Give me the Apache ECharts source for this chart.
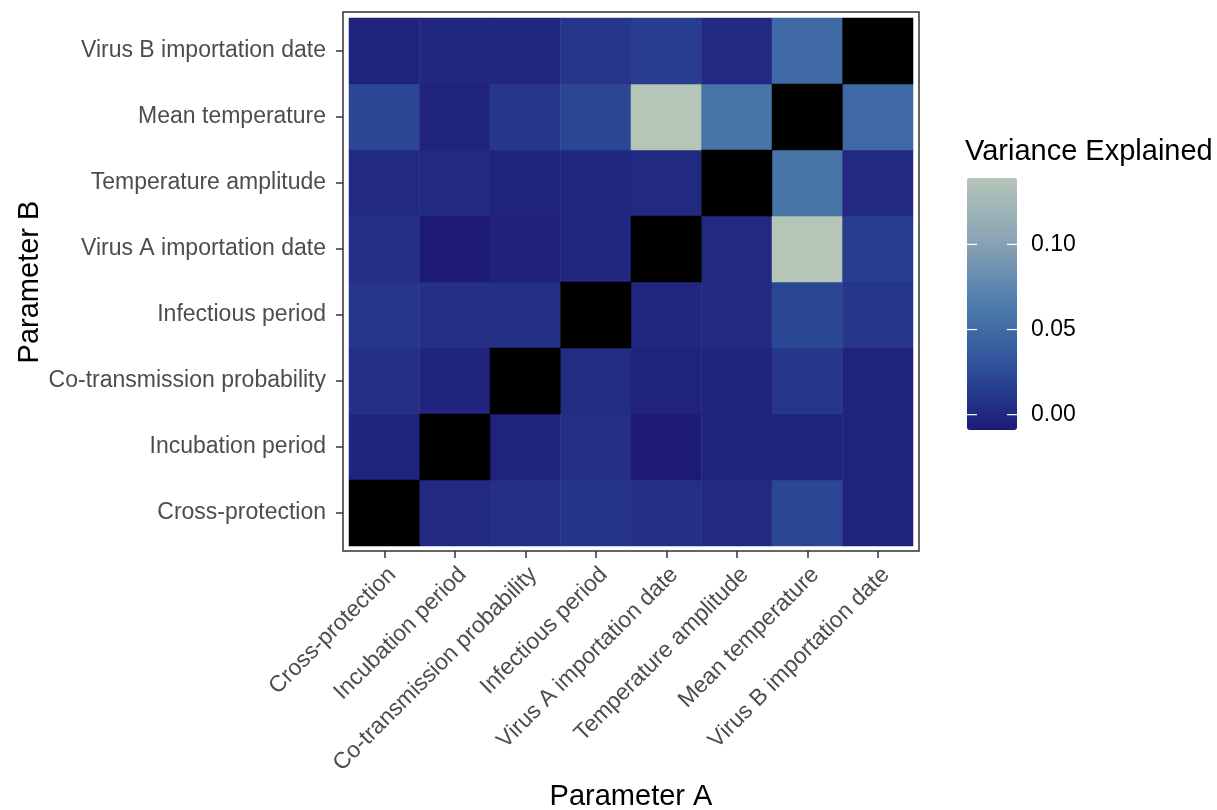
<!DOCTYPE html>
<html><head><meta charset="utf-8">
<script src="https://cdn.jsdelivr.net/npm/echarts@6/dist/echarts.min.js"></script>
<style>html,body{margin:0;padding:0;background:#fff}#c{width:1217px;height:810px}</style>
</head><body><div id="c"></div>
<script>
// Categories (Parameter A on x, Parameter B on y, bottom to top)
const params = ['Cross-protection','Incubation period','Co-transmission probability','Infectious period','Virus A importation date','Temperature amplitude','Mean temperature','Virus B importation date'];
// Variance explained per Parameter B row, across Parameter A columns (params order); null = diagonal (not applicable)
const rowCrossProtection = [null, 0.0016, 0.0057, 0.0090, 0.0057, 0.0016, 0.0216, -0.0030];
const rowIncubation      = [-0.0020, null, -0.0030, 0.0057, -0.0090, -0.0020, -0.0030, -0.0030];
const rowCoTransmission  = [0.0057, -0.0020, null, 0.0036, -0.0030, -0.0030, 0.0110, -0.0030];
const rowInfectious      = [0.0106, 0.0057, 0.0057, null, 0.0000, 0.0016, 0.0216, 0.0110];
const rowVirusA          = [0.0057, -0.0090, -0.0040, 0.0000, null, 0.0016, 0.1390, 0.0147];
const rowTempAmplitude   = [0.0010, 0.0016, -0.0020, -0.0005, 0.0010, null, 0.0590, 0.0010];
const rowMeanTemp        = [0.0216, -0.0020, 0.0110, 0.0216, 0.1390, 0.0590, null, 0.0490];
const rowVirusB          = [-0.0030, -0.0005, 0.0000, 0.0106, 0.0147, 0.0010, 0.0490, null];
const legendTicks = [0.00, 0.05, 0.10];
const legendTickLabels = ['0.00', '0.05', '0.10'];
const colorMin = -0.009, colorMax = 0.139;

const rows = [rowCrossProtection, rowIncubation, rowCoTransmission, rowInfectious, rowVirusA, rowTempAmplitude, rowMeanTemp, rowVirusB];
const cells = [], naCells = [];
rows.forEach((r, yi) => r.forEach((v, xi) => {
  if (v === null) naCells.push([xi, yi, 0]); else cells.push([xi, yi, v]);
}));

const FONT = "'Liberation Sans', Arial, Helvetica, sans-serif";
const grid = {left: 349, top: 18, width: 564, height: 528};
const leg = {left: 967, top: 178, w: 50, h: 252};
const legY = v => leg.top + (colorMax - v) / (colorMax - colorMin) * leg.h;

const graphics = [
  {type: 'rect', shape: {x: grid.left - 6, y: grid.top - 6, width: grid.width + 12, height: grid.height + 11},
   style: {fill: 'none', stroke: '#333333', lineWidth: 1.5}, z: 10, silent: true},
  {type: 'text', x: grid.left + grid.width / 2, y: 797,
   style: {text: 'Parameter A', font: "29px " + FONT, fill: '#000', textAlign: 'center', textVerticalAlign: 'middle'}},
  {type: 'text', x: 30, y: grid.top + grid.height / 2, rotation: Math.PI / 2,
   style: {text: 'Parameter B', font: "29px " + FONT, fill: '#000', textAlign: 'center', textVerticalAlign: 'middle'}},
  {type: 'text', x: 965, y: 152,
   style: {text: 'Variance Explained', font: "29px " + FONT, fill: '#000', textAlign: 'left', textVerticalAlign: 'middle'}}
];
legendTicks.forEach((t, i) => {
  const y = legY(t);
  graphics.push({type: 'line', shape: {x1: leg.left, y1: y, x2: leg.left + 10, y2: y}, style: {stroke: '#fff', lineWidth: 1.2}, z: 20});
  graphics.push({type: 'line', shape: {x1: leg.left + leg.w - 10, y1: y, x2: leg.left + leg.w, y2: y}, style: {stroke: '#fff', lineWidth: 1.2}, z: 20});
  graphics.push({type: 'text', x: leg.left + 64, y: y,
    style: {text: legendTickLabels[i], font: "23px " + FONT, fill: '#000', textAlign: 'left', textVerticalAlign: 'middle'}});
});

const chart = echarts.init(document.getElementById('c'));
chart.setOption({
  animation: false,
  backgroundColor: '#fff',
  grid: grid,
  xAxis: {
    type: 'category', data: params, offset: 5,
    axisLine: {show: false},
    axisTick: {show: true, alignWithLabel: true, length: 7, lineStyle: {color: '#333333', width: 1.5}},
    axisLabel: {rotate: 45, interval: 0, margin: 12, align: 'right', verticalAlign: 'top',
                fontSize: 23, fontFamily: FONT, color: '#4d4d4d'},
    splitLine: {show: false}
  },
  yAxis: {
    type: 'category', data: params, offset: 6,
    axisLine: {show: false},
    axisTick: {show: true, alignWithLabel: true, length: 7, lineStyle: {color: '#333333', width: 1.5}},
    axisLabel: {interval: 0, margin: 17, fontSize: 23, fontFamily: FONT, color: '#4d4d4d'},
    splitLine: {show: false}
  },
  visualMap: {
    type: 'continuous', seriesIndex: 0, min: colorMin, max: colorMax,
    left: leg.left, top: leg.top, itemWidth: leg.w, itemHeight: leg.h, padding: 0,
    calculable: false, hoverLink: false, text: null, showLabel: false,
    inRange: {color: ['#1d1a77', '#2e509a', '#4c7cab', '#8aa3b6', '#b5c5b7']}
  },
  graphic: graphics,
  series: [
    {type: 'heatmap', data: cells, itemStyle: {borderWidth: 0}, emphasis: {disabled: true}, silent: true},
    {type: 'heatmap', data: naCells, itemStyle: {color: '#000000', borderWidth: 0}, emphasis: {disabled: true}, silent: true}
  ]
});
</script></body></html>
